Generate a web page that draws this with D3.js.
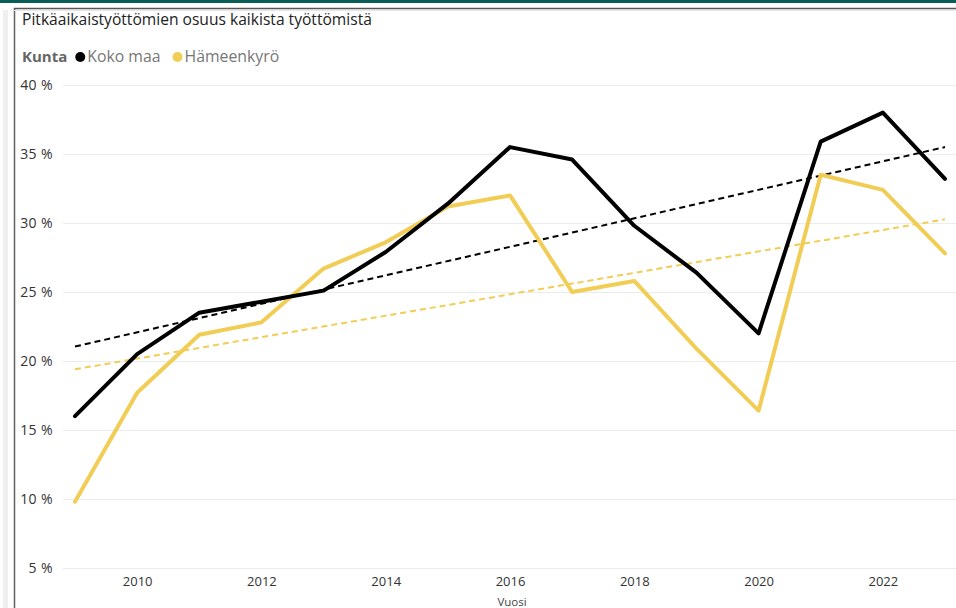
<!DOCTYPE html>
<html>
<head>
<meta charset="UTF-8">
<title>Pitkäaikaistyöttömien osuus</title>
<style>
    body { margin: 0; background: #fff; }
    svg text { font-family: "Open Sans", "Noto Sans", sans-serif; }
    .grid line { stroke: #ececec; stroke-width: 1; }
    .tick text { fill: #333; font-size: 13px; }
    .grid .tick text { font-size: 14px; letter-spacing: 0.4px; }
</style>
<script src="https://d3js.org/d3.v7.min.js"></script>
</head>
<body>
<svg width="956" height="608"></svg>
<script>

    var years = [2009, 2010, 2011, 2012, 2013, 2014, 2015, 2016, 2017, 2018, 2019, 2020, 2021, 2022, 2023];
    var kokoMaa = [16.0, 20.5, 23.5, 24.3, 25.1, 27.9, 31.4, 35.5, 34.6, 29.8, 26.4, 22.0, 35.9, 38.0, 33.2];
    var hameenkyro = [9.8, 17.7, 21.9, 22.8, 26.7, 28.6, 31.2, 32.0, 25.0, 25.8, 20.9, 16.4, 33.5, 32.4, 27.8];
    var yTicks = [5, 10, 15, 20, 25, 30, 35, 40];
    var xTicks = [2010, 2012, 2014, 2016, 2018, 2020, 2022];

    var series = [
        {name: "Koko maa", values: kokoMaa, color: "#000000"},
        {name: "Hämeenkyrö", values: hameenkyro, color: "#f2cd55"}
    ];

    var svg = d3.select("svg");

    // frame of the report page
    svg.append("rect").attr("x", 0).attr("y", 0).attr("width", 956).attr("height", 3).attr("fill", "#0b5e57");
    svg.append("rect").attr("x", 3).attr("y", 10).attr("width", 5).attr("height", 598).attr("fill", "#efefef");
    svg.append("line").attr("x1", 14.5).attr("x2", 14.5).attr("y1", 8).attr("y2", 608)
        .attr("stroke", "#606060").attr("stroke-width", 1.5);
    svg.append("line").attr("x1", 14).attr("x2", 956).attr("y1", 8.5).attr("y2", 8.5)
        .attr("stroke", "#555").attr("stroke-width", 1.5);
    svg.append("line").attr("x1", 14).attr("x2", 956).attr("y1", 10.5).attr("y2", 10.5)
        .attr("stroke", "#e6e6e6").attr("stroke-width", 1);

    svg.append("text").attr("x", 22).attr("y", 25)
        .attr("font-size", 15.6).attr("fill", "#222")
        .text("Pitkäaikaistyöttömien osuus kaikista työttömistä");

    // legend
    var leg = svg.append("g").attr("transform", "translate(22,62)");
    var kt = leg.append("text").attr("x", 0).attr("y", 0).attr("font-size", 15).attr("font-weight", "bold")
        .attr("fill", "#666").text("Kunta");
    var lx = kt.node().getComputedTextLength() + 8;
    series.forEach(function (s) {
        leg.append("circle").attr("cx", lx + 5).attr("cy", -5).attr("r", 5).attr("fill", s.color);
        var t = leg.append("text").attr("x", lx + 12).attr("y", 0).attr("font-size", 15.8)
            .attr("fill", "#777").text(s.name);
        lx += 12 + t.node().getComputedTextLength() + 12;
    });

    var x = d3.scaleLinear().domain([2009, 2023]).range([75, 945]);
    var y = d3.scaleLinear().domain([5, 40]).range([568, 85]);

    svg.append("g").attr("class", "grid")
        .attr("transform", "translate(63,0)")
        .call(d3.axisLeft(y).tickValues(yTicks).tickSize(-893).tickFormat(function (d) { return d + " %"; }))
        .call(function (g) {
            g.select(".domain").remove();
            g.selectAll(".tick text").attr("x", -10);
        });

    svg.append("g")
        .attr("transform", "translate(0,573)")
        .call(d3.axisBottom(x).tickValues(xTicks).tickSize(0).tickFormat(d3.format("d")))
        .call(function (g) {
            g.select(".domain").remove();
            g.selectAll(".tick text").attr("dy", "0.8em");
        });

    svg.append("text").attr("x", 512).attr("y", 606).attr("text-anchor", "middle")
        .attr("font-size", 11.5).attr("fill", "#444").text("Vuosi");

    var line = d3.line()
        .x(function (d, i) { return x(years[i]); })
        .y(function (d) { return y(d); });

    // least-squares trend for each series
    function trend(values) {
        var mx = d3.mean(years), my = d3.mean(values);
        var num = d3.sum(years, function (yr, i) { return (yr - mx) * (values[i] - my); });
        var den = d3.sum(years, function (yr) { return (yr - mx) * (yr - mx); });
        var b = num / den;
        return [years[0], years[years.length - 1]].map(function (yr) {
            return [yr, my + b * (yr - mx)];
        });
    }

    series.forEach(function (s) {
        svg.append("path")
            .datum(trend(s.values))
            .attr("fill", "none")
            .attr("stroke", s.color)
            .attr("stroke-width", 2)
            .attr("stroke-dasharray", "6,4")
            .attr("d", d3.line().x(function (d) { return x(d[0]); }).y(function (d) { return y(d[1]); }));
    });

    series.slice().reverse().forEach(function (s) {
        svg.append("path")
            .datum(s.values)
            .attr("fill", "none")
            .attr("stroke", s.color)
            .attr("stroke-width", 4)
            .attr("stroke-linejoin", "round")
            .attr("stroke-linecap", "round")
            .attr("d", line);
    });

</script>
</body>
</html>
